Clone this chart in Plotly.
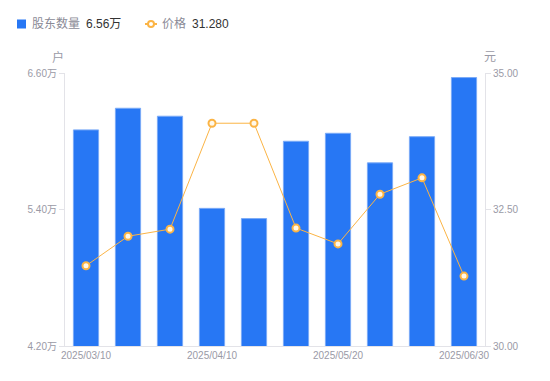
import plotly.graph_objects as go

dates = ["2025/03/10", "2025/03/20", "2025/03/31", "2025/04/10", "2025/04/20",
         "2025/04/30", "2025/05/20", "2025/05/31", "2025/06/10", "2025/06/30"]
holders = [6.10, 6.29, 6.22, 5.41, 5.32, 6.00, 6.07, 5.81, 6.04, 6.56]  # 万户
prices = [31.47, 32.01, 32.14, 34.08, 34.08, 32.16, 31.87, 32.78, 33.08, 31.28]
tick_dates = ["2025/03/10", "2025/04/10", "2025/05/20", "2025/06/30"]
left_ticks = [4.20, 5.40, 6.60]
right_ticks = [30.00, 32.50, 35.00]

W, H = 550, 381
L, R, T, B = 65, 65, 73, 35
PW, PH = W - L - R, H - T - B

def px(x):
    return (x - L) / PW

def py(y):
    return (H - B - y) / PH

FONT = "Arial, 'Liberation Sans', 'Noto Sans CJK SC', sans-serif"
GREY = "#9a9aa6"
AXIS = "#e3e3e8"
BLUE = "#2777f4"
ORANGE = "#fbb445"

fig = go.Figure()
fig.add_trace(go.Bar(
    x=dates, y=holders, width=0.6, name="股东数量",
    marker=dict(color=BLUE, line=dict(color="#7aaaf7", width=1)),
    yaxis="y", hoverinfo="skip", showlegend=False,
))
fig.add_trace(go.Scatter(
    x=dates, y=prices, mode="lines+markers", name="价格",
    line=dict(color=ORANGE, width=1),
    marker=dict(symbol="circle", size=7, color="#fff8ea", line=dict(color=ORANGE, width=2)),
    yaxis="y2", hoverinfo="skip", showlegend=False,
))

fig.update_layout(
    width=W, height=H,
    margin=dict(l=L, r=R, t=T, b=B),
    paper_bgcolor="white", plot_bgcolor="white",
    font=dict(family=FONT, size=10, color=GREY),
    bargap=0.4,
    xaxis=dict(
        type="category", tickvals=tick_dates, ticktext=tick_dates,
        showline=True, linecolor=AXIS, linewidth=1, ticks="",
        showgrid=False, zeroline=False, tickfont=dict(size=10, color=GREY),
        range=[-0.5, len(dates) - 0.5], fixedrange=True,
    ),
    yaxis=dict(
        range=[4.20, 6.60], tickvals=left_ticks,
        ticktext=[f"{v:.2f}万" for v in left_ticks],
        showline=True, linecolor=AXIS, linewidth=1,
        ticks="outside", ticklen=5, tickcolor=AXIS,
        showgrid=False, zeroline=False, tickfont=dict(size=10, color=GREY),
    ),
    yaxis2=dict(
        range=[30.00, 35.00], tickvals=right_ticks,
        ticktext=[f"{v:.2f}" for v in right_ticks],
        overlaying="y", side="right",
        showline=True, linecolor=AXIS, linewidth=1,
        ticks="outside", ticklen=5, tickcolor=AXIS,
        showgrid=False, zeroline=False, tickfont=dict(size=10, color=GREY),
    ),
)

def note(text, x, y, color, size=12, xanchor="left"):
    return dict(text=text, x=px(x), y=py(y), xref="paper", yref="paper",
                xanchor=xanchor, yanchor="middle", showarrow=False,
                font=dict(size=size, color=color))

ann = [
    note("户", 58, 57, GREY, xanchor="center"),
    note("元", 490, 57, GREY, xanchor="center"),
    note("股东数量", 30, 24, "#8a8a96"),
    note(f"{holders[-1]:.2f}万", 84, 24, "#333333"),
    note("价格", 160, 24, "#8a8a96"),
    note(f"{prices[-1]:.3f}", 190, 24, "#333333"),
]
fig.update_layout(annotations=ann)

shapes = [
    dict(type="rect", xref="paper", yref="paper", x0=px(17), x1=px(26), y0=py(28.5), y1=py(19.5),
         fillcolor=BLUE, line=dict(width=0)),
    dict(type="line", xref="paper", yref="paper", x0=px(145), x1=px(157), y0=py(24), y1=py(24),
         line=dict(color=ORANGE, width=2)),
    dict(type="circle", xref="paper", yref="paper", x0=px(148), x1=px(154), y0=py(27), y1=py(21),
         fillcolor="white", line=dict(color=ORANGE, width=2)),
]
fig.update_layout(shapes=shapes)

fig.write_html("out.html", config={"displayModeBar": False},
               post_script="document.body.style.margin='0';document.body.style.overflow='hidden';")
